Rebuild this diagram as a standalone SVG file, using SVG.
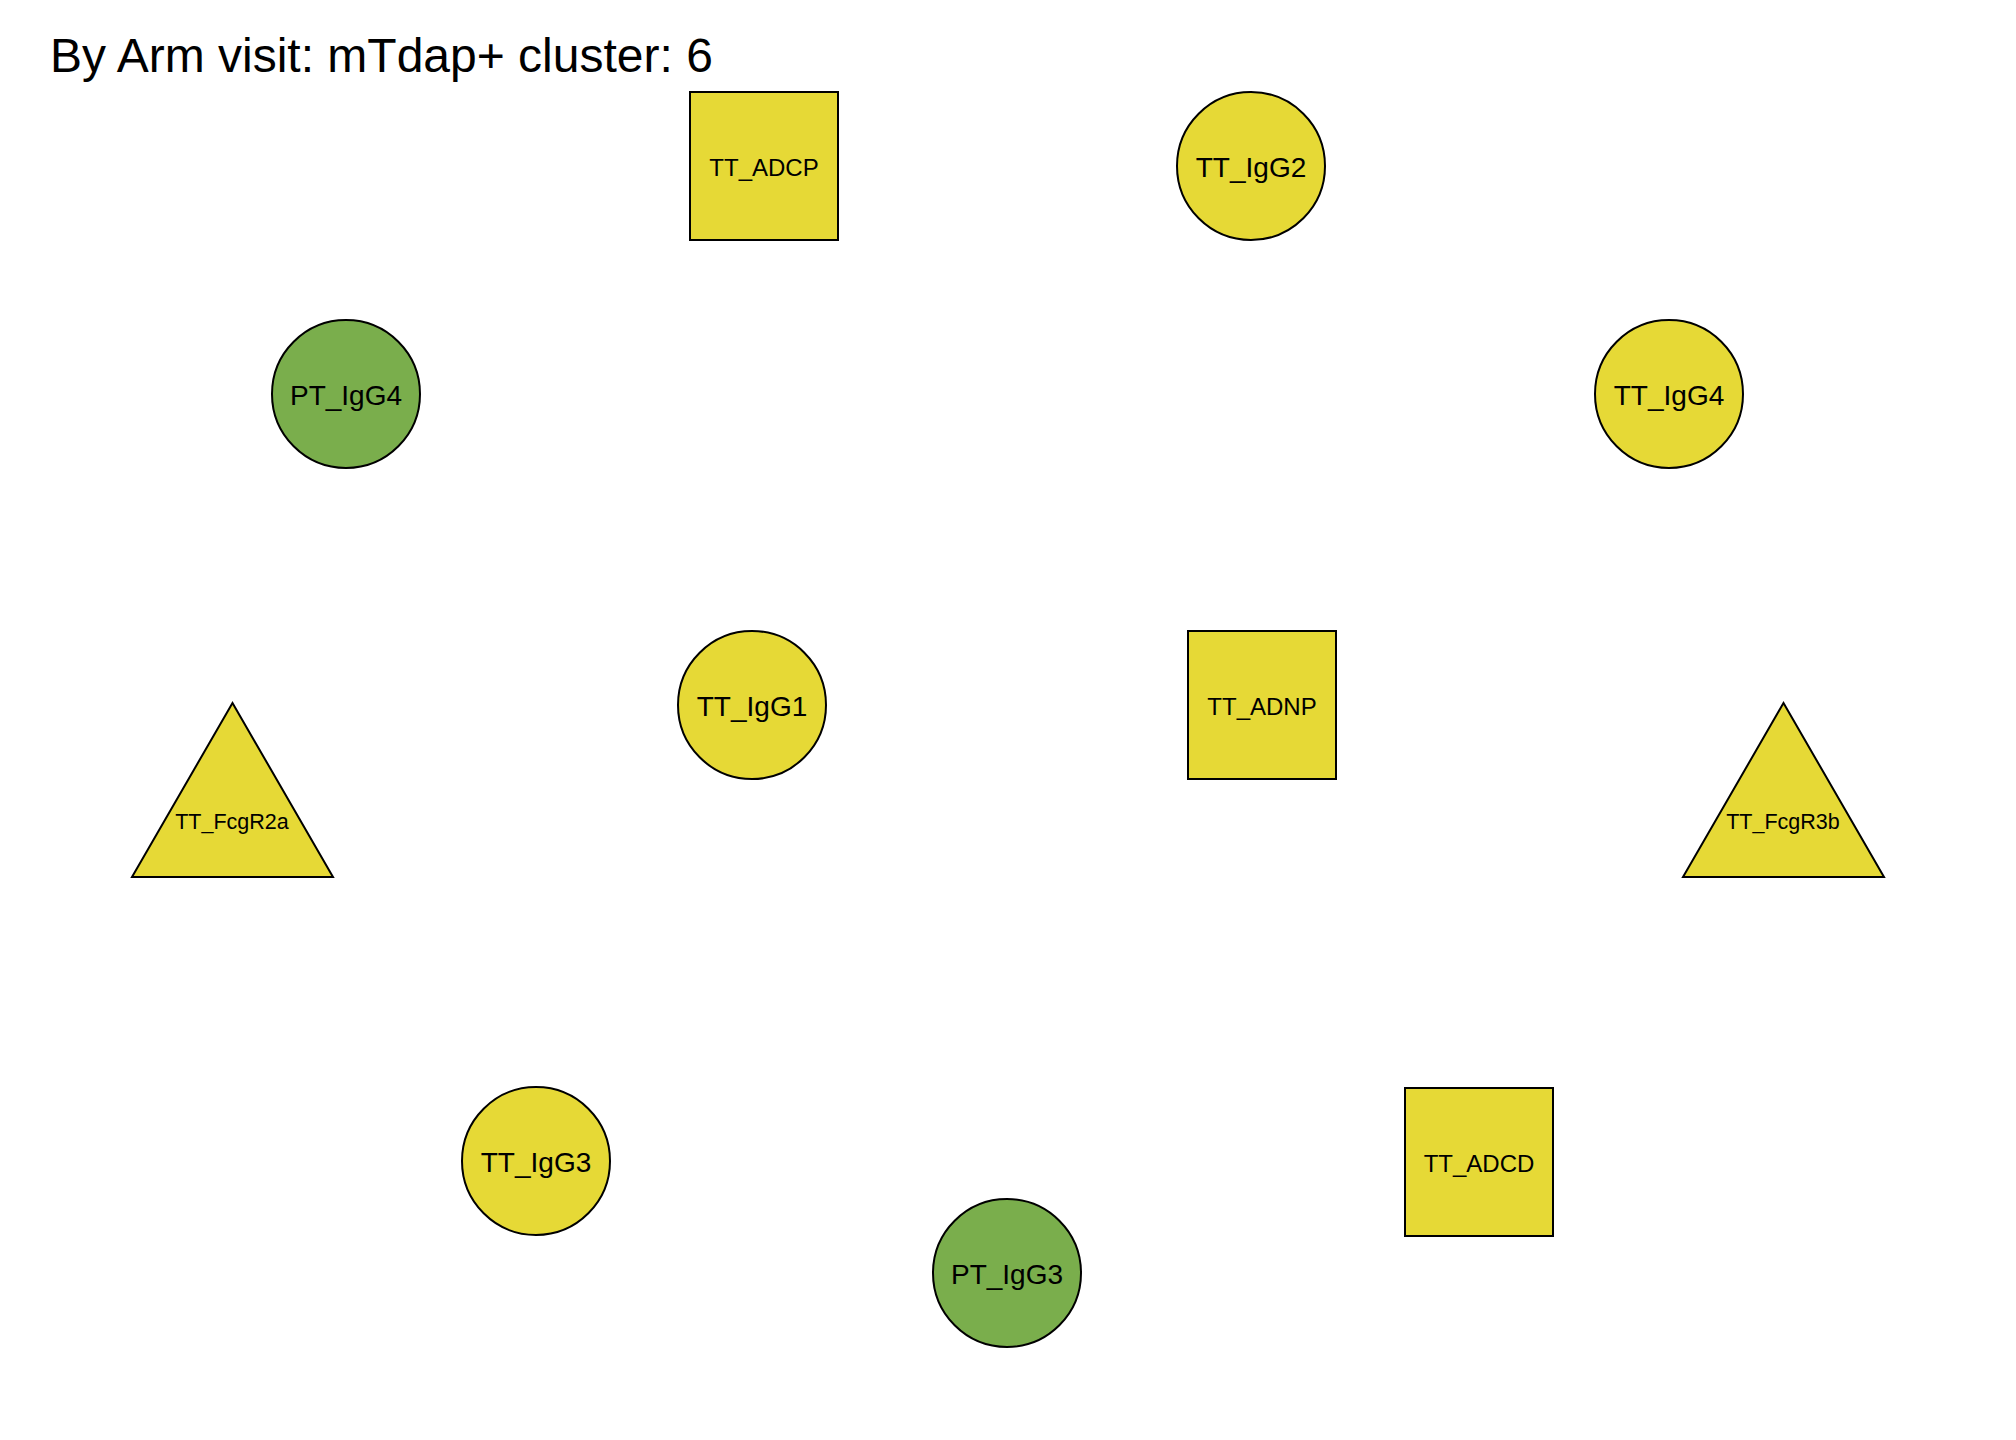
<svg xmlns="http://www.w3.org/2000/svg" width="2016" height="1440" viewBox="0 0 2016 1440">
<style>
text{font-family:"Liberation Sans",Arial,sans-serif;fill:#000;text-anchor:middle}
.title{font-size:48px;text-anchor:start}
.y{fill:#E6D936;stroke:#000;stroke-width:2}
.g{fill:#7AAE4C;stroke:#000;stroke-width:2}
.lc{font-size:28px}
.ls{font-size:24px}
.lt{font-size:21.5px}
</style>
<rect width="2016" height="1440" fill="#fff"/>
<text class="title" x="50" y="72">By Arm visit: mTdap+ cluster: 6</text>
<g id="edges"></g>
<g id="TT_ADCP"><rect class="y" x="690" y="92" width="148" height="148"/><text class="ls" x="764" y="176">TT_ADCP</text></g>
<g id="TT_IgG2"><circle class="y" cx="1251" cy="166" r="74"/><text class="lc" x="1251" y="177">TT_IgG2</text></g>
<g id="PT_IgG4"><circle class="g" cx="346" cy="394" r="74"/><text class="lc" x="346" y="405">PT_IgG4</text></g>
<g id="TT_IgG4"><circle class="y" cx="1669" cy="394" r="74"/><text class="lc" x="1669" y="405">TT_IgG4</text></g>
<g id="TT_IgG1"><circle class="y" cx="752" cy="705" r="74"/><text class="lc" x="752" y="716">TT_IgG1</text></g>
<g id="TT_ADNP"><rect class="y" x="1188" y="631" width="148" height="148"/><text class="ls" x="1262" y="715">TT_ADNP</text></g>
<g id="TT_FcgR2a"><polygon class="y" points="232.5,703 132,877 333,877"/><text class="lt" x="232" y="829">TT_FcgR2a</text></g>
<g id="TT_FcgR3b"><polygon class="y" points="1783.5,703 1683,877 1884,877"/><text class="lt" x="1783" y="829">TT_FcgR3b</text></g>
<g id="TT_IgG3"><circle class="y" cx="536" cy="1161" r="74"/><text class="lc" x="536" y="1172">TT_IgG3</text></g>
<g id="PT_IgG3"><circle class="g" cx="1007" cy="1273" r="74"/><text class="lc" x="1007" y="1284">PT_IgG3</text></g>
<g id="TT_ADCD"><rect class="y" x="1405" y="1088" width="148" height="148"/><text class="ls" x="1479" y="1172">TT_ADCD</text></g>
</svg>
